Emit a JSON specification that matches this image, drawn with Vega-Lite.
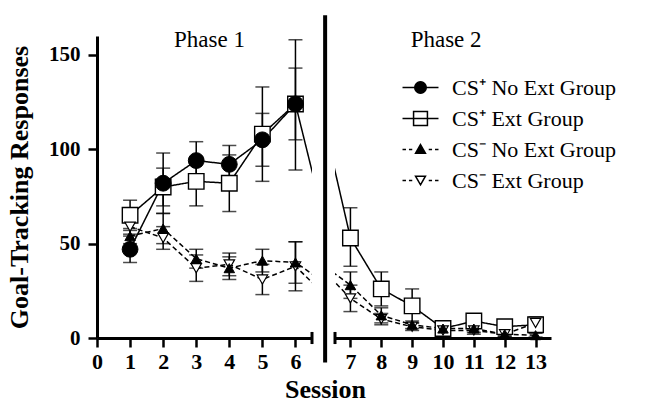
{
  "$schema": "https://vega.github.io/schema/vega-lite/v6.json",
  "padding": {"left": 6, "top": 13, "right": 5, "bottom": 0},
  "bounds": "flush",
  "spacing": 23,
  "config": {
    "font": "Liberation Serif",
    "view": {"stroke": null},
    "axis": {
      "labelFont": "Liberation Serif", "labelFontWeight": "bold", "labelColor": "black", "labelFontSize": 21,
      "titleFont": "Liberation Serif", "titleFontWeight": "bold", "titleFontSize": 26, "titleColor": "black",
      "domainColor": "black", "domainWidth": 3, "tickColor": "black", "tickWidth": 2.5, "tickSize": 9,
      "grid": false, "labelFlush": false, "labelOverlap": false
    }
  },
  "resolve": {
    "scale": {"shape": "independent", "fill": "independent", "stroke": "independent", "size": "independent"},
    "legend": {"shape": "independent", "fill": "independent", "stroke": "independent", "size": "independent"}
  },
  "datasets": {
    "d": [
      {"session": 1, "group": "CS\u207a Ext Group", "mean": 65, "lo": 57, "hi": 73},
      {"session": 2, "group": "CS\u207a Ext Group", "mean": 80, "lo": 70, "hi": 90},
      {"session": 3, "group": "CS\u207a Ext Group", "mean": 83, "lo": 70, "hi": 96},
      {"session": 4, "group": "CS\u207a Ext Group", "mean": 82, "lo": 67, "hi": 97},
      {"session": 5, "group": "CS\u207a Ext Group", "mean": 108, "lo": 83, "hi": 133},
      {"session": 6, "group": "CS\u207a Ext Group", "mean": 124, "lo": 89, "hi": 158},
      {"session": 7, "group": "CS\u207a Ext Group", "mean": 53, "lo": 38, "hi": 69},
      {"session": 8, "group": "CS\u207a Ext Group", "mean": 26, "lo": 17, "hi": 35},
      {"session": 9, "group": "CS\u207a Ext Group", "mean": 17, "lo": 8, "hi": 26},
      {"session": 10, "group": "CS\u207a Ext Group", "mean": 5, "lo": 3, "hi": 7},
      {"session": 11, "group": "CS\u207a Ext Group", "mean": 9, "lo": 7, "hi": 11},
      {"session": 12, "group": "CS\u207a Ext Group", "mean": 6, "lo": 4, "hi": 8},
      {"session": 13, "group": "CS\u207a Ext Group", "mean": 7, "lo": 3, "hi": 11},
      {"session": 1, "group": "CS\u207a No Ext Group", "mean": 47, "lo": 40, "hi": 54},
      {"session": 2, "group": "CS\u207a No Ext Group", "mean": 82, "lo": 66, "hi": 98},
      {"session": 3, "group": "CS\u207a No Ext Group", "mean": 94, "lo": 84, "hi": 104},
      {"session": 4, "group": "CS\u207a No Ext Group", "mean": 92, "lo": 82, "hi": 102},
      {"session": 5, "group": "CS\u207a No Ext Group", "mean": 105, "lo": 91, "hi": 119},
      {"session": 6, "group": "CS\u207a No Ext Group", "mean": 124, "lo": 105, "hi": 143},
      {"session": 1, "group": "CS\u207b Ext Group", "mean": 59, "lo": 55, "hi": 63},
      {"session": 2, "group": "CS\u207b Ext Group", "mean": 53, "lo": 47, "hi": 59},
      {"session": 3, "group": "CS\u207b Ext Group", "mean": 37, "lo": 30, "hi": 44},
      {"session": 4, "group": "CS\u207b Ext Group", "mean": 39, "lo": 33, "hi": 45},
      {"session": 5, "group": "CS\u207b Ext Group", "mean": 31, "lo": 23, "hi": 39},
      {"session": 6, "group": "CS\u207b Ext Group", "mean": 38, "lo": 25, "hi": 51},
      {"session": 7, "group": "CS\u207b Ext Group", "mean": 21, "lo": 14, "hi": 28},
      {"session": 8, "group": "CS\u207b Ext Group", "mean": 10, "lo": 7, "hi": 13},
      {"session": 9, "group": "CS\u207b Ext Group", "mean": 6, "lo": 4, "hi": 8},
      {"session": 10, "group": "CS\u207b Ext Group", "mean": 4, "lo": 2, "hi": 6},
      {"session": 11, "group": "CS\u207b Ext Group", "mean": 4, "lo": 2, "hi": 6},
      {"session": 12, "group": "CS\u207b Ext Group", "mean": 2, "lo": 1, "hi": 3},
      {"session": 13, "group": "CS\u207b Ext Group", "mean": 8, "lo": 5, "hi": 11},
      {"session": 1, "group": "CS\u207b No Ext Group", "mean": 54, "lo": 50, "hi": 58},
      {"session": 2, "group": "CS\u207b No Ext Group", "mean": 58, "lo": 50, "hi": 66},
      {"session": 3, "group": "CS\u207b No Ext Group", "mean": 42, "lo": 37, "hi": 47},
      {"session": 4, "group": "CS\u207b No Ext Group", "mean": 37, "lo": 31, "hi": 43},
      {"session": 5, "group": "CS\u207b No Ext Group", "mean": 41, "lo": 35, "hi": 47},
      {"session": 6, "group": "CS\u207b No Ext Group", "mean": 40, "lo": 29, "hi": 51},
      {"session": 7, "group": "CS\u207b No Ext Group", "mean": 28, "lo": 21, "hi": 35},
      {"session": 8, "group": "CS\u207b No Ext Group", "mean": 12, "lo": 8, "hi": 16},
      {"session": 9, "group": "CS\u207b No Ext Group", "mean": 7, "lo": 5, "hi": 9},
      {"session": 10, "group": "CS\u207b No Ext Group", "mean": 5, "lo": 3, "hi": 7},
      {"session": 11, "group": "CS\u207b No Ext Group", "mean": 5, "lo": 3, "hi": 7},
      {"session": 12, "group": "CS\u207b No Ext Group", "mean": 2, "lo": 1, "hi": 3},
      {"session": 13, "group": "CS\u207b No Ext Group", "mean": 1.5, "lo": 0.5, "hi": 2.5}
    ]
  },
  "hconcat": [
    {
      "width": 215,
      "height": 302,
      "data": {"name": "d"},
      "layer": [
        {
          "transform": [{"filter": "datum.session <= 7"}],
          "mark": {"type": "line", "clip": true, "strokeWidth": 1.5, "color": "black"},
          "encoding": {
            "x": {"field": "session", "type": "quantitative",
              "scale": {"domain": [0, 6.5], "nice": false, "zero": false},
              "axis": {"values": [0, 1, 2, 3, 4, 5, 6], "tickCount": 7, "labelOverlap": false, "title": "Session", "titleX": 228, "titleAlign": "center", "titlePadding": 4, "labelPadding": 4, "labelFontSize": 22}},
            "y": {"field": "mean", "type": "quantitative",
              "scale": {"domain": [0, 160], "nice": false},
              "axis": {"values": [0, 50, 100, 150], "title": "Goal-Tracking Responses", "labelPadding": 8, "titlePadding": 16}},
            "strokeDash": {"field": "group", "type": "nominal",
              "scale": {"domain": ["CS\u207a No Ext Group", "CS\u207a Ext Group", "CS\u207b No Ext Group", "CS\u207b Ext Group"], "range": [[1, 0], [1, 0], [5, 3], [5, 3]]},
              "legend": null}
          }
        },
        {
          "transform": [{"filter": "datum.session <= 6"}],
          "mark": {"type": "rule", "strokeWidth": 1.5, "color": "black"},
          "encoding": {
            "x": {"field": "session", "type": "quantitative"},
            "y": {"field": "lo", "type": "quantitative"},
            "y2": {"field": "hi"}
          }
        },
        {
          "transform": [{"filter": "datum.session <= 6"}],
          "mark": {"type": "tick", "orient": "horizontal", "size": 14, "thickness": 1.5, "color": "black"},
          "encoding": {"x": {"field": "session", "type": "quantitative"}, "y": {"field": "lo", "type": "quantitative"}}
        },
        {
          "transform": [{"filter": "datum.session <= 6"}],
          "mark": {"type": "tick", "orient": "horizontal", "size": 14, "thickness": 1.5, "color": "black"},
          "encoding": {"x": {"field": "session", "type": "quantitative"}, "y": {"field": "hi", "type": "quantitative"}}
        },
        {
          "transform": [{"filter": "datum.session <= 6 && datum.group == 'CS\u207a Ext Group'"}],
          "mark": {"type": "point", "shape": "square", "filled": true, "fill": "white", "stroke": "black", "strokeWidth": 1.4, "size": 240, "opacity": 1},
          "encoding": {"x": {"field": "session", "type": "quantitative"}, "y": {"field": "mean", "type": "quantitative"}}
        },
        {
          "transform": [{"filter": "datum.session <= 6 && datum.group == 'CS\u207a No Ext Group'"}],
          "mark": {"type": "point", "shape": "circle", "filled": true, "fill": "black", "stroke": "black", "strokeWidth": 1, "size": 250, "opacity": 1},
          "encoding": {"x": {"field": "session", "type": "quantitative"}, "y": {"field": "mean", "type": "quantitative"}}
        },
        {
          "transform": [{"filter": "datum.session <= 6 && datum.group == 'CS\u207b Ext Group'"}],
          "mark": {"type": "point", "shape": "triangle-down", "filled": true, "fill": "white", "stroke": "black", "strokeWidth": 1.2, "size": 110, "opacity": 1},
          "encoding": {"x": {"field": "session", "type": "quantitative"}, "y": {"field": "mean", "type": "quantitative"}}
        },
        {
          "transform": [{"filter": "datum.session <= 6 && datum.group == 'CS\u207b No Ext Group'"}],
          "mark": {"type": "point", "shape": "triangle-up", "filled": true, "fill": "black", "stroke": "black", "strokeWidth": 1, "size": 110, "opacity": 1},
          "encoding": {"x": {"field": "session", "type": "quantitative"}, "y": {"field": "mean", "type": "quantitative"}}
        },
        {
          "data": {"values": [{"label": "Phase 1", "sx": 3.4, "sy": 158}]},
          "mark": {"type": "text", "fontSize": 23, "font": "Liberation Serif", "color": "black", "baseline": "middle", "align": "center"},
          "encoding": {
            "x": {"field": "sx", "type": "quantitative"},
            "y": {"field": "sy", "type": "quantitative"},
            "text": {"field": "label"}
          }
        },
        {
          "data": {"values": [{"bx": 6.5, "b0": -3.2, "b1": 3.2}]},
          "mark": {"type": "rule", "strokeWidth": 3, "color": "black"},
          "encoding": {
            "x": {"field": "bx", "type": "quantitative"},
            "y": {"field": "b0", "type": "quantitative"},
            "y2": {"field": "b1"}
          }
        }
      ]
    },
    {
      "width": 216,
      "height": 302,
      "data": {"name": "d"},
      "layer": [
        {
          "transform": [{"filter": "datum.session >= 6"}],
          "mark": {"type": "line", "clip": true, "strokeWidth": 1.5, "color": "black"},
          "encoding": {
            "x": {"field": "session", "type": "quantitative",
              "scale": {"domain": [6.5, 13.5], "nice": false, "zero": false},
              "axis": {"values": [7, 8, 9, 10, 11, 12, 13], "tickCount": 7, "labelOverlap": false, "title": null, "labelPadding": 4, "labelFontSize": 22}},
            "y": {"field": "mean", "type": "quantitative",
              "scale": {"domain": [0, 160], "nice": false},
              "axis": null},
            "strokeDash": {"field": "group", "type": "nominal",
              "scale": {"domain": ["CS\u207a No Ext Group", "CS\u207a Ext Group", "CS\u207b No Ext Group", "CS\u207b Ext Group"], "range": [[1, 0], [1, 0], [5, 3], [5, 3]]},
              "legend": null}
          }
        },
        {
          "transform": [{"filter": "datum.session >= 7"}],
          "mark": {"type": "rule", "strokeWidth": 1.5, "color": "black"},
          "encoding": {
            "x": {"field": "session", "type": "quantitative"},
            "y": {"field": "lo", "type": "quantitative"},
            "y2": {"field": "hi"}
          }
        },
        {
          "transform": [{"filter": "datum.session >= 7"}],
          "mark": {"type": "tick", "orient": "horizontal", "size": 14, "thickness": 1.5, "color": "black"},
          "encoding": {"x": {"field": "session", "type": "quantitative"}, "y": {"field": "lo", "type": "quantitative"}}
        },
        {
          "transform": [{"filter": "datum.session >= 7"}],
          "mark": {"type": "tick", "orient": "horizontal", "size": 14, "thickness": 1.5, "color": "black"},
          "encoding": {"x": {"field": "session", "type": "quantitative"}, "y": {"field": "hi", "type": "quantitative"}}
        },
        {
          "transform": [{"filter": "datum.session >= 7 && datum.group == 'CS\u207a Ext Group'"}],
          "mark": {"type": "point", "shape": "square", "filled": true, "fill": "white", "stroke": "black", "strokeWidth": 1.4, "size": 240, "opacity": 1},
          "encoding": {"x": {"field": "session", "type": "quantitative"}, "y": {"field": "mean", "type": "quantitative"}}
        },
        {
          "transform": [{"filter": "datum.session >= 7 && datum.group == 'CS\u207b Ext Group'"}],
          "mark": {"type": "point", "shape": "triangle-down", "filled": true, "fill": "white", "stroke": "black", "strokeWidth": 1.2, "size": 110, "opacity": 1},
          "encoding": {"x": {"field": "session", "type": "quantitative"}, "y": {"field": "mean", "type": "quantitative"}}
        },
        {
          "transform": [{"filter": "datum.session >= 7 && datum.group == 'CS\u207b No Ext Group'"}],
          "mark": {"type": "point", "shape": "triangle-up", "filled": true, "fill": "black", "stroke": "black", "strokeWidth": 1, "size": 110, "opacity": 1},
          "encoding": {"x": {"field": "session", "type": "quantitative"}, "y": {"field": "mean", "type": "quantitative"}}
        },
        {
          "mark": {"type": "point", "filled": true, "strokeWidth": 1.5, "opacity": 0},
          "encoding": {
            "x": {"field": "session", "type": "quantitative"},
            "y": {"field": "mean", "type": "quantitative"},
            "shape": {"field": "group", "type": "nominal",
              "scale": {"domain": ["CS\u207a No Ext Group", "CS\u207a Ext Group", "CS\u207b No Ext Group", "CS\u207b Ext Group"],
                "range": [
                  "M-1.09,0H1.09M-0.35,0A0.35,0.35,0,1,0,0.35,0A0.35,0.35,0,1,0,-0.35,0Z",
                  "M-1.09,0H1.09M-0.42,-0.42H0.42V0.42H-0.42Z",
                  "M-1.09,0H-0.88M-0.7,0H-0.5M0.5,0H0.7M0.88,0H1.09M0,-0.3L0.3,0.22H-0.3Z",
                  "M-1.09,0H-0.88M-0.7,0H-0.5M0.5,0H0.7M0.88,0H1.09M0,0.26L0.3,-0.26H-0.3Z"
                ]},
              "legend": {"title": null, "orient": "none", "legendX": 68, "legendY": 34, "padding": 0, "rowPadding": 2,
                "symbolOpacity": 1, "symbolStrokeWidth": 1.5,
                "labelFont": "Liberation Serif", "labelFontSize": 22, "labelColor": "black", "labelOffset": 14, "labelLimit": 400}},
            "fill": {"field": "group", "type": "nominal",
              "scale": {"domain": ["CS\u207a No Ext Group", "CS\u207a Ext Group", "CS\u207b No Ext Group", "CS\u207b Ext Group"], "range": ["black", "white", "black", "white"]},
              "legend": {"title": null, "orient": "none", "legendX": 68, "legendY": 34, "padding": 0, "rowPadding": 2,
                "symbolOpacity": 1, "symbolStrokeWidth": 1.5,
                "labelFont": "Liberation Serif", "labelFontSize": 22, "labelColor": "black", "labelOffset": 14, "labelLimit": 400}},
            "stroke": {"field": "group", "type": "nominal",
              "scale": {"domain": ["CS\u207a No Ext Group", "CS\u207a Ext Group", "CS\u207b No Ext Group", "CS\u207b Ext Group"], "range": ["black", "black", "black", "black"]},
              "legend": {"title": null, "orient": "none", "legendX": 68, "legendY": 34, "padding": 0, "rowPadding": 2,
                "symbolOpacity": 1, "symbolStrokeWidth": 1.5,
                "labelFont": "Liberation Serif", "labelFontSize": 22, "labelColor": "black", "labelOffset": 14, "labelLimit": 400}},
            "size": {"field": "group", "type": "nominal",
              "scale": {"domain": ["CS\u207a No Ext Group", "CS\u207a Ext Group", "CS\u207b No Ext Group", "CS\u207b Ext Group"], "range": [1089, 1089, 1089, 1089]},
              "legend": {"title": null, "orient": "none", "legendX": 68, "legendY": 34, "padding": 0, "rowPadding": 2,
                "symbolOpacity": 1, "symbolStrokeWidth": 1.5,
                "labelFont": "Liberation Serif", "labelFontSize": 22, "labelColor": "black", "labelOffset": 14, "labelLimit": 400}}
          }
        },
        {
          "data": {"values": [{"label": "Phase 2", "sx": 10.1, "sy": 158}]},
          "mark": {"type": "text", "fontSize": 23, "font": "Liberation Serif", "color": "black", "baseline": "middle", "align": "center"},
          "encoding": {
            "x": {"field": "sx", "type": "quantitative"},
            "y": {"field": "sy", "type": "quantitative"},
            "text": {"field": "label"}
          }
        },
        {
          "data": {"values": [{"bx": 6.5, "b0": -3.2, "b1": 3.2}]},
          "mark": {"type": "rule", "strokeWidth": 3, "color": "black"},
          "encoding": {
            "x": {"field": "bx", "type": "quantitative"},
            "y": {"field": "b0", "type": "quantitative"},
            "y2": {"field": "b1"}
          }
        },
        {
          "data": {"values": [{"bx": 6.18, "b0": -13, "b1": 171}]},
          "mark": {"type": "rule", "strokeWidth": 4, "color": "black"},
          "encoding": {
            "x": {"field": "bx", "type": "quantitative"},
            "y": {"field": "b0", "type": "quantitative"},
            "y2": {"field": "b1"}
          }
        }
      ]
    }
  ]
}
